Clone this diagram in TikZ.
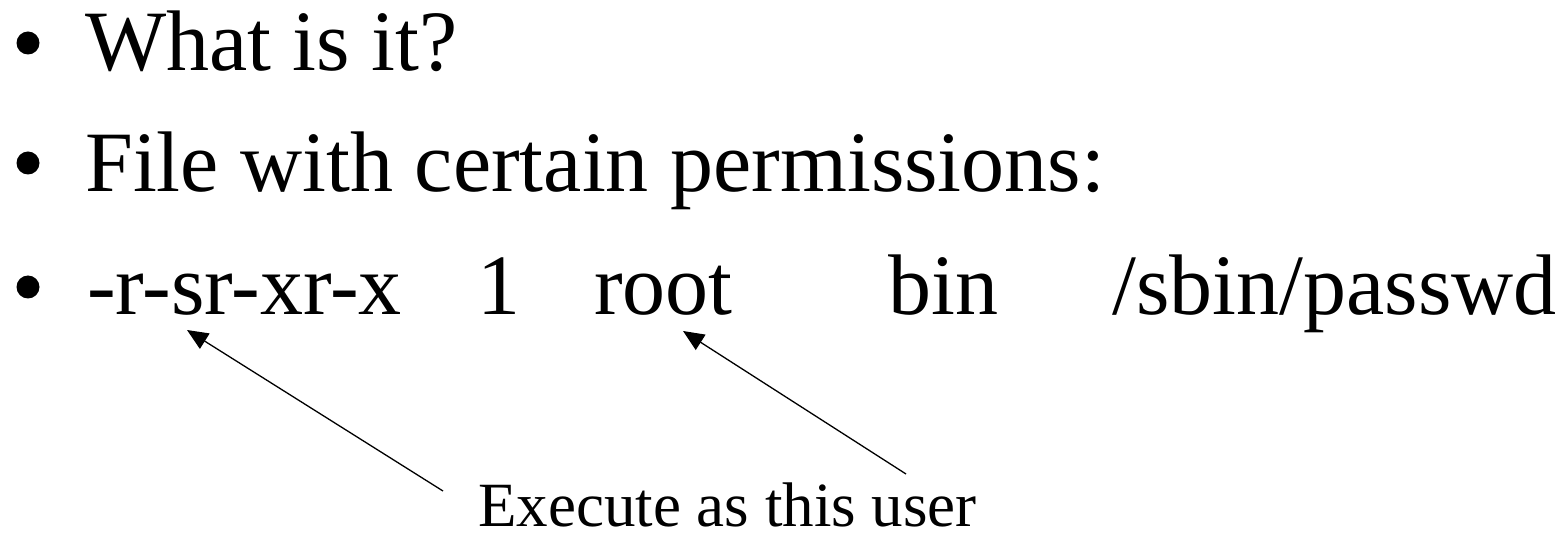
\documentclass[tikz,border=0pt]{standalone}
\usepackage{fontspec}
\setmainfont{Liberation Serif}
\usetikzlibrary{arrows.meta}
\begin{document}
\begin{tikzpicture}[x=1pt,y=-1pt,
  bigtext/.style={anchor=base west,inner sep=0pt,font=\fontsize{86}{86}\selectfont},
  smalltext/.style={anchor=base west,inner sep=0pt,font=\fontsize{63}{63}\selectfont},
  bulletdot/.style={circle,fill=black,minimum size=23pt,inner sep=0pt},
  pointer/.style={-{Triangle[length=21pt,width=18pt]},line width=1.3pt}]
\useasboundingbox (0,0) rectangle (1568,534);
\node[bulletdot] (b1) at (28,43) {};
\node[bigtext] (t1) at (85,71) {What is it?};
\node[bulletdot] (b2) at (28,163) {};
\node[bigtext] (t2) at (85,192) {File with certain permissions:};
\node[bulletdot] (b3) at (28,287) {};
\node[bigtext] (p1) at (87,315) {-r-sr-xr-x};
\node[bigtext] (p2) at (477,315) {1};
\node[bigtext] (p3) at (594,315) {root};
\node[bigtext] (p4) at (888,315) {bin};
\node[bigtext] (p5) at (1112,315) {/sbin/passwd};
\node[smalltext] (ex) at (478,526) {Execute as this user};
\coordinate (tailA) at (443,491);
\coordinate (tipA) at (187,330);
\coordinate (tailB) at (906,474);
\coordinate (tipB) at (683,331);
\draw[pointer] (tailA) -- (tipA);
\draw[pointer] (tailB) -- (tipB);
\end{tikzpicture}
\end{document}
